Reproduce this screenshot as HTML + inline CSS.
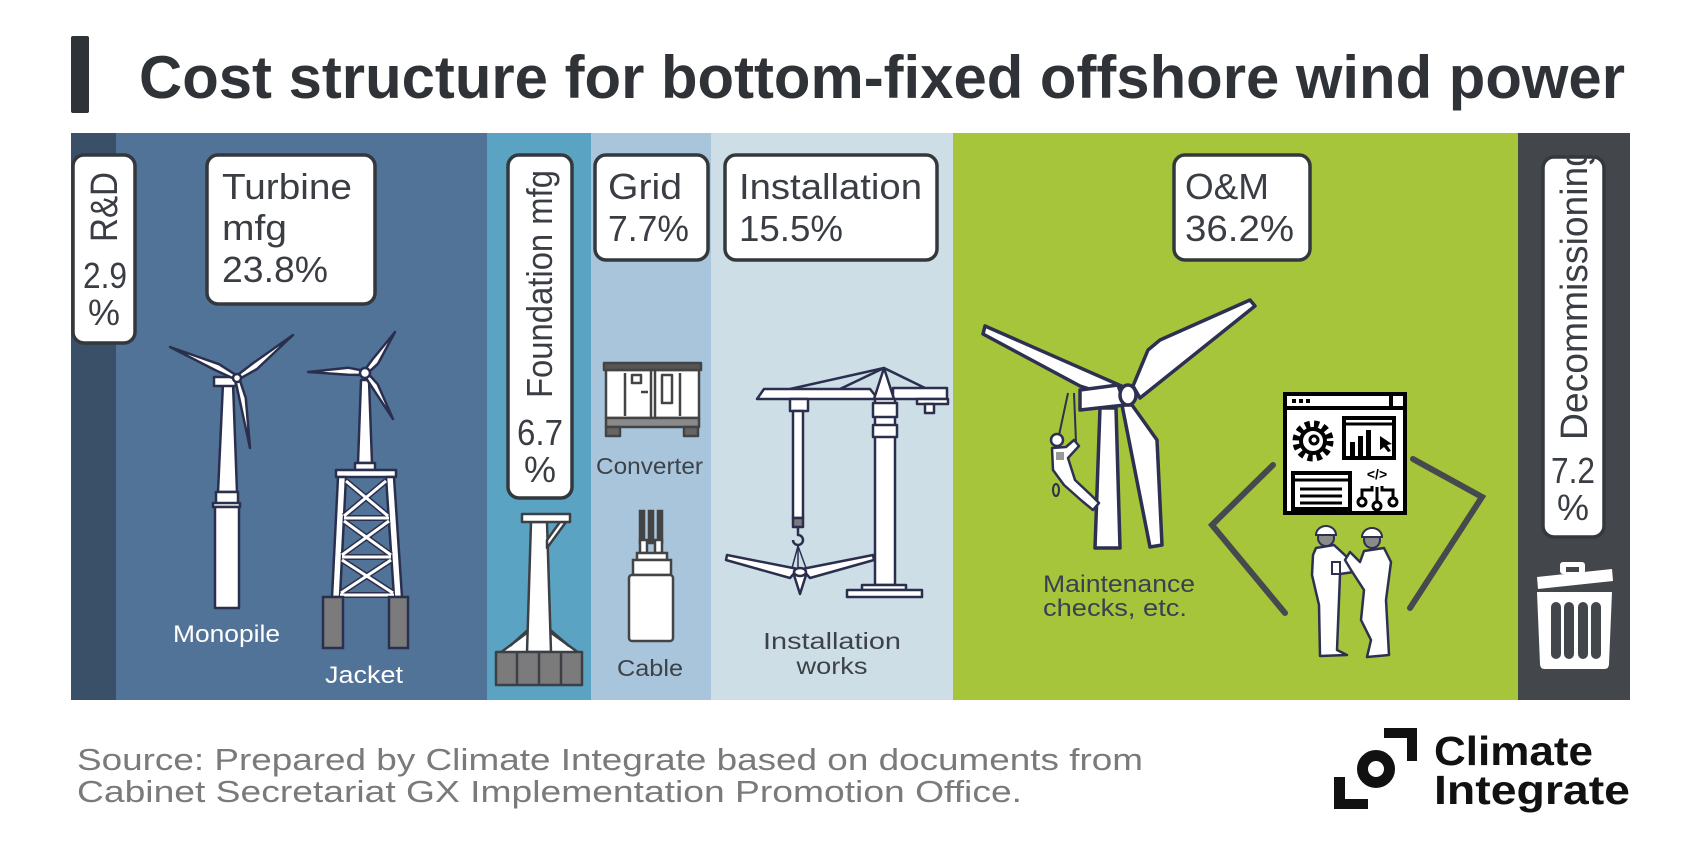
<!DOCTYPE html>
<html><head><meta charset="utf-8"><style>
html,body{margin:0;padding:0;background:#fff;}
svg{display:block;}
text{font-family:"Liberation Sans",Arial,sans-serif;}
</style></head><body>
<svg width="1701" height="851" viewBox="0 0 1701 851" xmlns="http://www.w3.org/2000/svg">
<defs>
<clipPath id="dc"><rect x="1530" y="155" width="90" height="400"/></clipPath>
</defs>
<!-- title -->
<rect x="71" y="36" width="18" height="77" rx="2" fill="#2f3338"/>
<text x="139" y="98" font-size="60" font-weight="bold" fill="#2f3338" textLength="1486" lengthAdjust="spacingAndGlyphs">Cost structure for bottom-fixed offshore wind power</text>

<!-- panel sections -->
<rect x="71" y="133" width="45" height="567" fill="#3a5068"/>
<rect x="116" y="133" width="371" height="567" fill="#527398"/>
<rect x="487" y="133" width="104" height="567" fill="#5ba3c3"/>
<rect x="591" y="133" width="120" height="567" fill="#a8c5db"/>
<rect x="711" y="133" width="242" height="567" fill="#cedee7"/>
<rect x="953" y="133" width="565" height="567" fill="#a6c53b"/>
<rect x="1518" y="133" width="112" height="567" fill="#43474b"/>

<!-- label boxes -->
<g fill="#fff" stroke="#33383d" stroke-width="3.5">
<rect x="73" y="155" width="62" height="188" rx="11"/>
<rect x="207" y="155" width="168" height="149" rx="11"/>
<rect x="508" y="155" width="64" height="343" rx="11"/>
<rect x="595" y="155" width="113" height="105" rx="11"/>
<rect x="725" y="155" width="212" height="105" rx="11"/>
<rect x="1174" y="155" width="136" height="105" rx="11"/>
<rect x="1543" y="157" width="61" height="380" rx="11"/>
</g>
<g fill="#3a3e44" font-size="36">
<text transform="translate(117,242) rotate(-90)" font-size="38" textLength="70" lengthAdjust="spacingAndGlyphs">R&amp;D</text>
<text x="105" y="288" text-anchor="middle" textLength="44" lengthAdjust="spacingAndGlyphs">2.9</text>
<text x="104" y="325" text-anchor="middle">%</text>
<text x="222" y="199" textLength="130" lengthAdjust="spacingAndGlyphs">Turbine</text>
<text x="222" y="240" textLength="65" lengthAdjust="spacingAndGlyphs">mfg</text>
<text x="222" y="282" textLength="106" lengthAdjust="spacingAndGlyphs">23.8%</text>
<text transform="translate(552,398) rotate(-90)" textLength="228" lengthAdjust="spacingAndGlyphs">Foundation mfg</text>
<text x="540" y="445" text-anchor="middle" textLength="46" lengthAdjust="spacingAndGlyphs">6.7</text>
<text x="540" y="482" text-anchor="middle">%</text>
<text x="608" y="199" textLength="74" lengthAdjust="spacingAndGlyphs">Grid</text>
<text x="608" y="241" textLength="81" lengthAdjust="spacingAndGlyphs">7.7%</text>
<text x="739" y="199" textLength="183" lengthAdjust="spacingAndGlyphs">Installation</text>
<text x="739" y="241" textLength="104" lengthAdjust="spacingAndGlyphs">15.5%</text>
<text x="1185" y="199" textLength="84" lengthAdjust="spacingAndGlyphs">O&amp;M</text>
<text x="1185" y="241" textLength="109" lengthAdjust="spacingAndGlyphs">36.2%</text>
<g clip-path="url(#dc)"><text transform="translate(1587,440) rotate(-90)" font-size="38" textLength="294" lengthAdjust="spacingAndGlyphs">Decommissioning</text></g>
<text x="1573" y="483" text-anchor="middle" textLength="44" lengthAdjust="spacingAndGlyphs">7.2</text>
<text x="1573" y="520" text-anchor="middle">%</text>
</g>

<!-- Monopile turbine -->
<g fill="#fff" stroke="#2b2f4e" stroke-width="2.5" stroke-linejoin="round">
<polygon points="223,383 233,383 237,492 218,492"/>
<rect x="216" y="492" width="22" height="12"/>
<rect x="213" y="503" width="27" height="4"/>
<rect x="215" y="507" width="24" height="101"/>
<polygon points="214,377 235,377 236,386 214,386"/>
<polygon points="237.8,376.2 219,364.2 170,347 216,370.5 236.2,379.8"/>
<polygon points="238.2,379.6 256.9,369.1 293,335 252.6,363.5 235.8,376.4"/>
<polygon points="235,378.4 250,448 245.8,398.1 239,377.6"/>
<circle cx="237" cy="378" r="4"/>
</g>
<!-- Jacket turbine -->
<g fill="#fff" stroke="#2b2f4e" stroke-width="2.5" stroke-linejoin="round">
<polygon points="361,380 369,380 372,463 358,463"/>
<rect x="355" y="463" width="20" height="7"/>
<rect x="336" y="470" width="60" height="7"/>
<polygon points="338,477 346,477 340,597 332,597"/>
<polygon points="386,477 394,477 402,597 394,597"/>
<polygon points="365,371 348,367.7 308,372 348,374.7 365,375"/>
<polygon points="366.6,374.2 378,363.7 395,332 372.4,359.5 363.4,371.8"/>
<polygon points="363.3,374 393,419 377.7,384.2 366.7,372"/>
<circle cx="365" cy="373" r="5"/>
</g>
<g stroke="#2b2f4e" stroke-width="6" stroke-linecap="butt">
<line x1="346" y1="481" x2="388" y2="516"/><line x1="386" y1="481" x2="344" y2="516"/>
<line x1="344" y1="521" x2="391" y2="555"/><line x1="389" y1="521" x2="342" y2="555"/>
<line x1="342" y1="560" x2="393" y2="593"/><line x1="391" y1="560" x2="341" y2="593"/>
<line x1="344" y1="518" x2="389" y2="518"/><line x1="342" y1="557" x2="391" y2="557"/><line x1="340" y1="595" x2="394" y2="595"/>
</g>
<g stroke="#fff" stroke-width="3">
<line x1="346" y1="481" x2="388" y2="516"/><line x1="386" y1="481" x2="344" y2="516"/>
<line x1="344" y1="521" x2="391" y2="555"/><line x1="389" y1="521" x2="342" y2="555"/>
<line x1="342" y1="560" x2="393" y2="593"/><line x1="391" y1="560" x2="341" y2="593"/>
<line x1="344" y1="518" x2="389" y2="518"/><line x1="342" y1="557" x2="391" y2="557"/><line x1="340" y1="595" x2="394" y2="595"/>
</g>
<g fill="#7b7b7b" stroke="#2b2f4e" stroke-width="2.5">
<rect x="323" y="597" width="20" height="51"/>
<rect x="389" y="597" width="19" height="51"/>
</g>
<g fill="#fff" font-size="24">
<text x="173" y="642" textLength="107" lengthAdjust="spacingAndGlyphs">Monopile</text>
<text x="325" y="683" textLength="78" lengthAdjust="spacingAndGlyphs">Jacket</text>
</g>

<!-- Foundation (gravity base) -->
<g fill="#fff" stroke="#3c4045" stroke-width="2.5" stroke-linejoin="round">
<polygon points="500,653 528,632 550,632 579,653"/>
<line x1="510" y1="646" x2="530" y2="628" />
<line x1="569" y1="646" x2="548" y2="628" />
<polygon points="531,522 547,522 551,652 527,652"/>
<polygon points="547,540 560,522 566,522 547,548"/>
<rect x="522" y="514" width="48" height="8"/>
<rect x="496" y="652" width="86" height="33" fill="#7b7b7b"/>
<line x1="517" y1="652" x2="517" y2="685"/><line x1="539" y1="652" x2="539" y2="685"/><line x1="561" y1="652" x2="561" y2="685"/>
</g>

<!-- Converter -->
<g stroke="#444" stroke-width="2.5" stroke-linejoin="round">
<rect x="606" y="370" width="93" height="48" fill="#fff"/>
<rect x="604" y="363" width="97" height="7" fill="#555"/>
<rect x="606" y="418" width="93" height="9" fill="#8a8a8a"/>
<rect x="606" y="427" width="14" height="9" fill="#666"/>
<rect x="684" y="427" width="14" height="9" fill="#666"/>
<g fill="none">
<line x1="625" y1="373" x2="625" y2="416"/>
<line x1="651" y1="370" x2="651" y2="418"/><line x1="655" y1="370" x2="655" y2="418"/>
<line x1="680" y1="373" x2="680" y2="416"/>
<rect x="632" y="375" width="9" height="8"/>
<rect x="662" y="375" width="10" height="28"/>
<line x1="641" y1="392" x2="648" y2="392"/>
</g>
</g>
<!-- Cable -->
<g stroke="#444" stroke-width="2.5" fill="#fff">
<rect x="640" y="511" width="4" height="32" fill="#444"/>
<rect x="649" y="511" width="4" height="32" fill="#444"/>
<rect x="658" y="511" width="4" height="32" fill="#444"/>
<rect x="640" y="540" width="7" height="13"/>
<rect x="655" y="540" width="7" height="13"/>
<rect x="637" y="553" width="30" height="7"/>
<rect x="633" y="560" width="38" height="15"/>
<rect x="629" y="575" width="44" height="66" rx="3"/>
</g>
<g fill="#3d4249" font-size="23">
<text x="596" y="474" textLength="107" lengthAdjust="spacingAndGlyphs">Converter</text>
<text x="617" y="676" textLength="66" lengthAdjust="spacingAndGlyphs">Cable</text>
<text x="832" y="649" text-anchor="middle" textLength="138" lengthAdjust="spacingAndGlyphs">Installation</text>
<text x="832" y="674" text-anchor="middle" textLength="71" lengthAdjust="spacingAndGlyphs">works</text>
</g>

<!-- Crane -->
<g fill="#fff" stroke="#2b2f4e" stroke-width="2.5" stroke-linejoin="round">
<line x1="884" y1="368" x2="790" y2="389" fill="none"/>
<line x1="884" y1="368" x2="840" y2="389" fill="none"/>
<line x1="884" y1="368" x2="925" y2="388" fill="none"/>
<polygon points="757,399 764,389 870,389 878,399"/>
<rect x="893" y="388" width="54" height="11"/>
<rect x="917" y="399" width="31" height="5"/>
<rect x="925" y="404" width="9" height="9"/>
<polygon points="884,368 874,399 894,399"/>
<rect x="875" y="399" width="20" height="186"/>
<rect x="873" y="403" width="24" height="14"/>
<rect x="873" y="425" width="24" height="12"/>
<rect x="862" y="585" width="44" height="5"/>
<rect x="847" y="590" width="75" height="7"/>
<rect x="790" y="399" width="18" height="12"/>
<rect x="793" y="411" width="10" height="107"/>
<rect x="793" y="518" width="10" height="9" fill="#7b7b7b"/>
<path d="M798,527 v8 a5,5 0 1 1 -5,5" fill="none"/>
<line x1="798" y1="546" x2="792" y2="568" fill="none" stroke-width="1.5"/>
<line x1="798" y1="546" x2="806" y2="568" fill="none" stroke-width="1.5"/>
<line x1="798" y1="546" x2="798" y2="568" fill="none" stroke-width="1.5"/>
<polygon points="798,569 727,555 726,560 790,578"/>
<polygon points="802,569 873,555 874,560 810,578"/>
<polygon points="794,575 800,594 806,575"/>
<ellipse cx="800" cy="572" rx="6" ry="4"/>
</g>

<!-- O&M turbine -->
<g fill="#fff" stroke="#2d3050" stroke-width="3.5" stroke-linejoin="round">
<polygon points="1100,408 1116,408 1120,548 1095,548"/>
<polygon points="1126,388 985,326 983,334 1080,386 1124,400"/>
<polygon points="1133,386 1148,350 1160,340 1250,300 1255,306 1140,398"/>
<polygon points="1122,405 1150,547 1162,545 1157,440 1132,405"/>
<polygon points="1080,390 1118,385 1125,405 1080,410"/>
<ellipse cx="1128" cy="395" rx="8" ry="10"/>
</g>
<!-- climber -->
<g fill="none" stroke="#2d3050" stroke-width="2">
<line x1="1068" y1="393" x2="1058" y2="440"/>
<line x1="1074" y1="393" x2="1076" y2="442"/>
<ellipse cx="1056" cy="490" rx="3" ry="6"/>
</g>
<g fill="#fff" stroke="#2d3050" stroke-width="2.5" stroke-linejoin="round">
<path d="M1052,448 L1066,447 L1074,440 L1079,446 L1068,458 L1075,480 L1092,496 L1099,503 L1093,510 L1082,501 L1064,485 L1053,470 Z"/>
<circle cx="1057" cy="440" r="6"/>
</g>
<rect x="1056" y="452" width="8" height="8" fill="#999"/>
<g fill="#3b3f52" font-size="24">
<text x="1043" y="592" textLength="152" lengthAdjust="spacingAndGlyphs">Maintenance</text>
<text x="1043" y="616" textLength="144" lengthAdjust="spacingAndGlyphs">checks, etc.</text>
</g>

<!-- brackets -->
<g fill="none" stroke="#46494d" stroke-width="6" stroke-linecap="round" stroke-linejoin="miter">
<polyline points="1273,465 1212,525 1285,613"/>
<polyline points="1413,459 1482,497 1410,608"/>
</g>

<!-- software icon -->
<g fill="none" stroke="#000" stroke-width="4">
<rect x="1285" y="394" width="120" height="119" fill="#fff"/>
<line x1="1285" y1="408" x2="1405" y2="408"/>
<line x1="1391" y1="394" x2="1391" y2="408"/>
<circle cx="1313" cy="441" r="17" stroke-width="7" stroke-dasharray="5 4"/>
<circle cx="1313" cy="441" r="12"/>
<circle cx="1314" cy="440" r="4" stroke-width="3"/>
<rect x="1344" y="418" width="50" height="40"/>
<line x1="1344" y1="424" x2="1394" y2="424" stroke-width="3"/>
<rect x="1293" y="473" width="57" height="36"/>
<line x1="1293" y1="480" x2="1350" y2="480" stroke-width="3"/>
<line x1="1300" y1="489" x2="1342" y2="489" stroke-width="3"/>
<line x1="1300" y1="496" x2="1342" y2="496" stroke-width="3"/>
<line x1="1300" y1="503" x2="1342" y2="503" stroke-width="3"/>
<circle cx="1362" cy="502" r="4" stroke-width="3"/>
<circle cx="1377" cy="506" r="4" stroke-width="3"/>
<circle cx="1393" cy="502" r="4" stroke-width="3"/>
<polyline points="1362,498 1362,490 1372,490 1372,486" stroke-width="3"/>
<line x1="1377" y1="502" x2="1377" y2="487" stroke-width="3"/>
<polyline points="1393,498 1393,490 1382,490 1382,486" stroke-width="3"/>
</g>
<g fill="#000">
<rect x="1292" y="399" width="4" height="4"/><rect x="1299" y="399" width="4" height="4"/><rect x="1306" y="399" width="4" height="4"/>
<rect x="1350" y="442" width="5" height="14"/><rect x="1358" y="436" width="5" height="20"/><rect x="1366" y="430" width="5" height="26"/>
<polygon points="1380,436 1392,444 1387,445 1391,451 1388,452 1384,447 1380,450"/>
<text x="1377" y="479" font-size="14" font-weight="bold" text-anchor="middle" font-family="Liberation Mono, monospace">&lt;/&gt;</text>
</g>

<!-- workers -->
<g fill="#fff" stroke="#2d3050" stroke-width="2.5" stroke-linejoin="round">
<path d="M1316,548 L1334,545 L1348,558 L1356,562 L1354,572 L1340,574 L1339,600 L1337,650 L1347,655 L1320,656 L1319,605 L1312,575 L1313,555 Z"/>
<path d="M1364,551 L1384,548 L1391,562 L1386,600 L1389,655 L1367,657 L1371,640 L1361,620 L1364,590 L1351,570 L1345,560 L1350,552 L1360,562 Z"/>
</g>
<g fill="#8a8a8a" stroke="#2d3050" stroke-width="2">
<circle cx="1326" cy="538" r="8"/>
<circle cx="1372" cy="540" r="8"/>
</g>
<g fill="#fff" stroke="#2d3050" stroke-width="2">
<path d="M1316,535 a10,9 0 0 1 20,0 z"/>
<path d="M1362,537 a10,9 0 0 1 20,0 z"/>
<rect x="1332" y="562" width="8" height="12"/>
</g>

<!-- trash can -->
<g fill="#fff">
<rect x="1560" y="562" width="25" height="12" rx="3"/>
<polygon points="1537,577 1612,569 1613,581 1538,589"/>
<path d="M1537,592 L1612,592 L1609,664 Q1609,669 1604,669 L1545,669 Q1540,669 1540,664 Z"/>
</g>
<rect x="1566" y="567" width="13" height="5" fill="#43474b"/>
<g fill="#43474b">
<rect x="1551" y="602" width="10" height="57" rx="5"/>
<rect x="1564" y="602" width="10" height="57" rx="5"/>
<rect x="1578" y="602" width="10" height="57" rx="5"/>
<rect x="1591" y="602" width="10" height="57" rx="5"/>
</g>

<!-- footer -->
<g fill="#7a7a7a" font-size="31">
<text x="77" y="770" textLength="1066" lengthAdjust="spacingAndGlyphs">Source: Prepared by Climate Integrate based on documents from</text>
<text x="77" y="802" textLength="945" lengthAdjust="spacingAndGlyphs">Cabinet Secretariat GX Implementation Promotion Office.</text>
</g>

<!-- logo -->
<g fill="#111">
<rect x="1334" y="777" width="11" height="32"/>
<rect x="1334" y="799" width="34" height="10"/>
<rect x="1384" y="728" width="33" height="10"/>
<rect x="1407" y="728" width="10" height="33"/>
</g>
<circle cx="1376" cy="769" r="13.5" fill="none" stroke="#111" stroke-width="11"/>
<g fill="#111" font-weight="bold" font-size="41">
<text x="1434" y="765" textLength="159" lengthAdjust="spacingAndGlyphs">Climate</text>
<text x="1434" y="804" textLength="196" lengthAdjust="spacingAndGlyphs">Integrate</text>
</g>
</svg>
</body></html>
